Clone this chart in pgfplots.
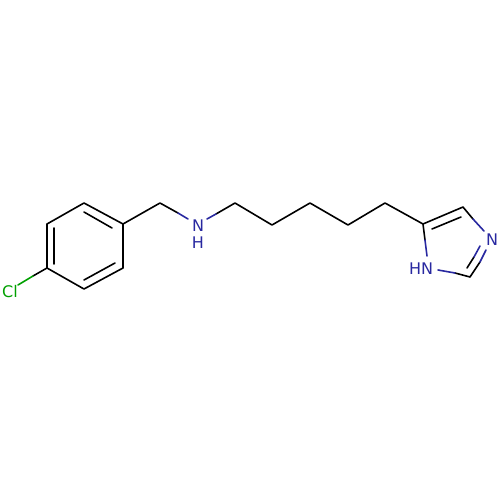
\documentclass[border=0pt]{standalone}
\usepackage{fontspec}
\setmainfont{DejaVu Sans}
\usepackage{pgfplots}
\pgfplotsset{compat=1.18}
\definecolor{atomN}{RGB}{40,40,160}
\definecolor{atomCl}{RGB}{0,160,0}
\definecolor{bond}{RGB}{0,0,0}
\newcommand{\atomfont}{\fontsize{16bp}{16bp}\selectfont}
\begin{document}
\begin{tikzpicture}
% hidden axis has no box of its own, so the page size is fixed here
\useasboundingbox (0,0) rectangle (500bp,500bp);
\begin{axis}[
    at={(0,0)}, anchor=south west,
    width=500bp, height=500bp, scale only axis,
    xmin=0, xmax=500, ymin=0, ymax=500, y dir=reverse,
    hide axis, clip=false,
    unbounded coords=jump,
    every axis plot/.append style={line width=1.6bp, line cap=round, line join=round, mark=none, solid},
]
% carbon skeleton, pixel positions, nan breaks the path
\addplot[bond] coordinates {
    (84,203) (123,224) (123,268) (84,289) (47,268) (47,224) (84,203) (nan,nan)
    (84,212) (112,228) (nan,nan)
    (54,228) (54,264) (nan,nan)
    (84,280) (115,263) (nan,nan)
    (123,224) (160,203) (178,213) (nan,nan)
    (216,214) (235,203) (272,225) (310,203) (348,225) (385,203) (423,224) (463,207) (473,219) (nan,nan)
    (423,224) (425,240) (nan,nan)
    (432,229) (461,217) (nan,nan)
    (455,273) (470,277) (480,262) (nan,nan)
    (467,268) (474,257) (nan,nan)
    (47,268) (33,276)
};
% bonds next to nitrogen
\addplot[atomN] coordinates {
    (178,213) (188,219) (nan,nan)
    (207,219) (216,214) (nan,nan)
    (473,219) (484,231) (nan,nan)
    (480,262) (486,250) (nan,nan)
    (474,257) (480,246) (nan,nan)
    (425,240) (427,256) (nan,nan)
    (438,270) (455,273)
};
% bond next to chlorine
\addplot[atomCl] coordinates {(33,276) (18,285)};
\node[text=atomCl, font=\atomfont, inner sep=0pt] at (axis cs:10,292) {Cl};
\node[text=atomN, font=\atomfont, inner sep=0pt] at (axis cs:198,226) {N};
\node[text=atomN, font=\atomfont, inner sep=0pt] at (axis cs:198,243) {H};
\node[text=atomN, font=\atomfont, inner sep=0pt] at (axis cs:492,240) {N};
\node[text=atomN, font=\atomfont, inner sep=0pt] at (axis cs:421,269) {HN};
\end{axis}
\end{tikzpicture}
\end{document}
